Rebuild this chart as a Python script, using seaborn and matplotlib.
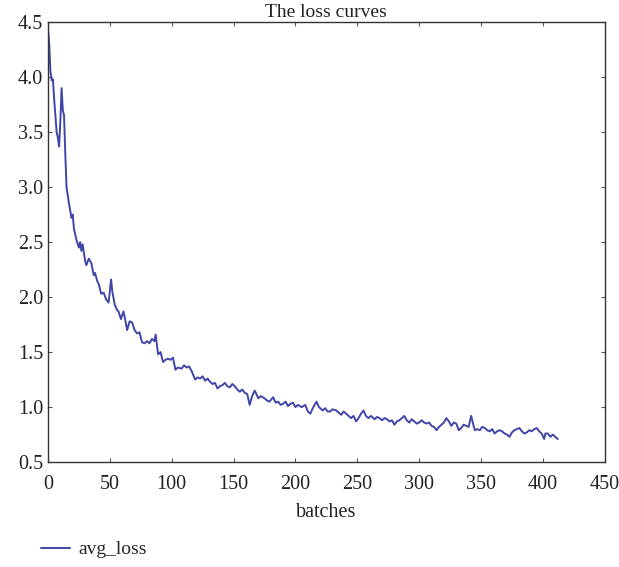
import pandas as pd
import matplotlib.pyplot as plt
import seaborn as sns

# valores
batches = [0, 1, 2, 3, 4, 5, 7, 8, 9, 10, 11, 12, 13, 14, 15, 17, 19, 20, 21, 23,
           25, 26, 27, 28, 30, 31, 33, 35, 37, 38, 40, 41, 43, 45, 47, 49, 51, 52, 54, 56,
           57, 59, 61, 62, 64, 66, 68, 70, 72, 74, 76, 78, 80, 82, 84, 86, 87, 89, 91, 93,
           95, 97, 99, 101, 103, 105, 108, 110, 112, 114, 116, 119, 121, 123, 125, 127, 129, 131, 133, 135,
           137, 139, 141, 143, 145, 147, 149, 151, 153, 155, 157, 159, 161, 163, 165, 167, 168, 170, 172, 175,
           177, 179, 182, 184, 186, 188, 190, 192, 194, 196, 198, 200, 202, 205, 208, 210, 212, 214, 217, 219,
           222, 224, 226, 228, 230, 233, 235, 237, 239, 241, 243, 245, 247, 249, 251, 253, 255, 257, 259, 261,
           264, 266, 268, 270, 272, 274, 276, 278, 280, 282, 284, 286, 288, 290, 292, 294, 296, 298, 300, 302,
           304, 306, 308, 310, 312, 314, 316, 318, 320, 322, 324, 326, 328, 330, 332, 334, 336, 338, 340, 342,
           344, 345, 347, 349, 351, 353, 355, 357, 359, 361, 363, 365, 367, 369, 371, 373, 375, 377, 379, 381,
           383, 385, 387, 389, 391, 393, 395, 397, 399, 401, 402, 404, 406, 408, 410, 412]
avg_loss = [4.45, 4.30, 4.05, 3.97, 3.98, 3.80, 3.50, 3.45, 3.37, 3.60, 3.90, 3.70, 3.65, 3.30, 3.00, 2.85, 2.72, 2.75, 2.62, 2.52,
            2.45, 2.50, 2.42, 2.48, 2.33, 2.29, 2.35, 2.31, 2.20, 2.22, 2.14, 2.12, 2.03, 2.04, 1.98, 1.95, 2.16, 2.05, 1.93, 1.88,
            1.87, 1.80, 1.87, 1.82, 1.70, 1.78, 1.77, 1.70, 1.67, 1.68, 1.59, 1.58, 1.60, 1.58, 1.62, 1.60, 1.66, 1.48, 1.50, 1.41,
            1.43, 1.44, 1.43, 1.45, 1.34, 1.36, 1.35, 1.38, 1.36, 1.37, 1.33, 1.25, 1.27, 1.26, 1.28, 1.24, 1.26, 1.23, 1.21, 1.22,
            1.17, 1.19, 1.20, 1.22, 1.19, 1.18, 1.21, 1.19, 1.16, 1.14, 1.16, 1.13, 1.12, 1.02, 1.10, 1.15, 1.13, 1.08, 1.10, 1.08,
            1.06, 1.05, 1.09, 1.04, 1.05, 1.02, 1.03, 1.05, 1.01, 1.03, 1.04, 1.00, 1.02, 1.00, 1.02, 0.96, 0.94, 0.99, 1.05, 1.00,
            0.97, 0.99, 0.96, 0.96, 0.98, 0.97, 0.95, 0.93, 0.96, 0.94, 0.92, 0.90, 0.92, 0.87, 0.90, 0.94, 0.97, 0.92, 0.90, 0.92,
            0.89, 0.91, 0.90, 0.88, 0.90, 0.89, 0.87, 0.88, 0.84, 0.87, 0.88, 0.90, 0.92, 0.88, 0.86, 0.89, 0.87, 0.85, 0.86, 0.88,
            0.86, 0.85, 0.86, 0.83, 0.82, 0.79, 0.82, 0.84, 0.86, 0.90, 0.87, 0.83, 0.86, 0.85, 0.79, 0.81, 0.84, 0.83, 0.82, 0.92,
            0.83, 0.79, 0.80, 0.79, 0.82, 0.81, 0.79, 0.78, 0.80, 0.76, 0.78, 0.79, 0.78, 0.76, 0.75, 0.73, 0.77, 0.79, 0.80, 0.81,
            0.78, 0.76, 0.77, 0.79, 0.78, 0.80, 0.81, 0.78, 0.76, 0.71, 0.76, 0.76, 0.73, 0.75, 0.73, 0.71]

x_ticks = [0, 50, 100, 150, 200, 250, 300, 350, 400, 450]
y_ticks = [0.5, 1.0, 1.5, 2.0, 2.5, 3.0, 3.5, 4.0, 4.5]

df = pd.DataFrame({"batches": batches, "avg_loss": avg_loss})

sns.set_style("ticks")
plt.rcParams["font.family"] = ["Liberation Serif", "DejaVu Serif"]

fig = plt.figure(figsize=(6.19, 5.67), dpi=100)
ax = fig.add_axes([0.0775, 0.185, 0.8995, 0.776])

sns.lineplot(data=df, x="batches", y="avg_loss", ax=ax, color="#4046a8",
             linewidth=1.4, label="avg_loss", legend=False)

ax.set_xlim(0, 450)
ax.set_ylim(0.5, 4.5)
ax.set_xticks(x_ticks)
ax.set_yticks(y_ticks)
ax.set_yticklabels([f"{v:.1f}" for v in y_ticks])
ax.tick_params(direction="in", length=3, width=0.8, labelsize=14.5,
               top=True, right=True, colors="#555555", labelcolor="#222222")
ax.tick_params(axis="x", pad=9)
for s in ax.spines.values():
    s.set_color("#333333")
    s.set_linewidth(1.0)

ax.set_title("The loss curves", fontsize=14, pad=4, color="#222222")
ax.set_xlabel("batches", fontsize=14.5, labelpad=7, color="#222222")
ax.set_ylabel("")

handles, labels = ax.get_legend_handles_labels()
fig.legend(handles, labels, loc="lower left", bbox_to_anchor=(0.066, 0.015),
           frameon=False, fontsize=14, handlelength=1.5, handletextpad=0.45,
           borderpad=0, borderaxespad=0)

plt.savefig("out.png", dpi=100)
